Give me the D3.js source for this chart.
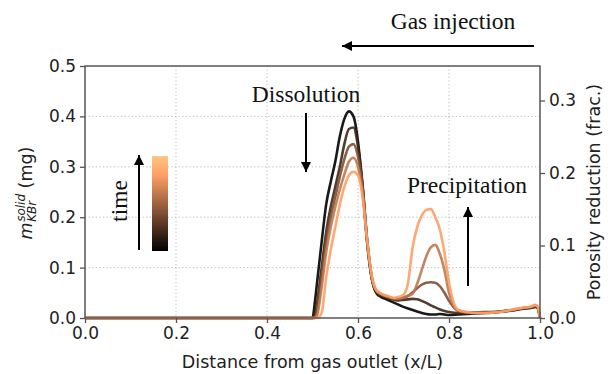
<!DOCTYPE html>
<html lang="en">
<head>
  <meta charset="UTF-8">
  <title>KBr solid mass vs distance</title>
  <script src="https://d3js.org/d3.v7.min.js"></script>
  <style>
    body { margin: 0; background: #fff; }
    .tick text { font-family: "DejaVu Sans", sans-serif; font-size: 17px; fill: #222; }
    .tick line, .domain { stroke: #555; }
    .axis-label { font-family: "DejaVu Sans", sans-serif; fill: #222; }
    .note { font-family: "Liberation Serif", "Times New Roman", serif; font-size: 23.5px; fill: #111; }
  </style>
</head>
<body>
  <div id="chart"></div>
  <script>
    // sample positions (x/L)
    const xs = [0, 0.1, 0.2, 0.3, 0.4, 0.5, 0.505, 0.51, 0.52, 0.53, 0.54, 0.55, 0.56, 0.57, 0.58, 0.59,
      0.60, 0.61, 0.62, 0.63, 0.64, 0.65, 0.66, 0.67, 0.68, 0.69, 0.70, 0.71, 0.72, 0.73, 0.74, 0.75,
      0.76, 0.77, 0.78, 0.79, 0.80, 0.82, 0.84, 0.86, 0.88, 0.90, 0.92, 0.94, 0.96, 0.98, 0.99, 0.995, 1.0];

    // solid KBr mass (mg), one series per time step, earliest first
    const t0 = [0, 0, 0, 0, 0, 0, 0.03, 0.07, 0.15, 0.225, 0.27, 0.31, 0.36, 0.395, 0.41, 0.40,
      0.35, 0.26, 0.15, 0.08, 0.05, 0.042, 0.038, 0.034, 0.030, 0.026, 0.022, 0.019, 0.016, 0.013, 0.010, 0.008,
      0.007, 0.007, 0.008, 0.007, 0.006, 0.007, 0.008, 0.009, 0.010, 0.011, 0.013, 0.015, 0.018, 0.020, 0.022, 0.02, 0];
    const t1 = [0, 0, 0, 0, 0, 0, 0.005, 0.03, 0.10, 0.17, 0.22, 0.26, 0.30, 0.345, 0.375, 0.378,
      0.34, 0.265, 0.155, 0.08, 0.052, 0.045, 0.041, 0.038, 0.036, 0.035, 0.036, 0.037, 0.038, 0.037, 0.034, 0.030,
      0.025, 0.021, 0.017, 0.014, 0.012, 0.010, 0.010, 0.011, 0.012, 0.012, 0.014, 0.016, 0.019, 0.021, 0.023, 0.02, 0];
    const t2 = [0, 0, 0, 0, 0, 0, 0, 0.015, 0.08, 0.15, 0.20, 0.24, 0.28, 0.315, 0.34, 0.345,
      0.32, 0.26, 0.155, 0.082, 0.054, 0.047, 0.043, 0.040, 0.038, 0.038, 0.040, 0.044, 0.051, 0.059, 0.066, 0.070,
      0.071, 0.070, 0.063, 0.050, 0.034, 0.014, 0.011, 0.010, 0.011, 0.012, 0.013, 0.016, 0.019, 0.022, 0.024, 0.021, 0];
    const t3 = [0, 0, 0, 0, 0, 0, 0, 0.005, 0.06, 0.13, 0.18, 0.22, 0.255, 0.285, 0.31, 0.318,
      0.30, 0.25, 0.155, 0.083, 0.055, 0.048, 0.044, 0.041, 0.039, 0.039, 0.041, 0.044, 0.048, 0.068, 0.095, 0.122,
      0.140, 0.145, 0.127, 0.095, 0.050, 0.015, 0.011, 0.010, 0.010, 0.011, 0.013, 0.016, 0.020, 0.022, 0.025, 0.022, 0];
    const t4 = [0, 0, 0, 0, 0, 0, 0, 0, 0.01, 0.08, 0.135, 0.18, 0.225, 0.26, 0.283, 0.29,
      0.283, 0.24, 0.155, 0.085, 0.056, 0.049, 0.045, 0.042, 0.040, 0.042, 0.046, 0.07, 0.14, 0.18, 0.203, 0.214,
      0.216, 0.200, 0.175, 0.13, 0.07, 0.016, 0.012, 0.010, 0.010, 0.011, 0.013, 0.017, 0.020, 0.023, 0.026, 0.023, 0];

    const series = [t0, t1, t2, t3, t4];
    const cmapPos = [0, 0.2, 0.4, 0.6, 0.8];   // place on the copper colormap

    const xTicks = [0, 0.2, 0.4, 0.6, 0.8, 1.0];
    const yTicks = [0, 0.1, 0.2, 0.3, 0.4, 0.5];
    const y2Ticks = [0, 0.1, 0.2, 0.3];

    // matplotlib "copper"
    const copper = t => d3.rgb(255 * Math.min(1, 1.25 * t), 255 * 0.7812 * t, 255 * 0.4975 * t);

    const W = 614, H = 374;
    const margin = { top: 66, right: 74, bottom: 56, left: 85 };
    const w = W - margin.left - margin.right, h = H - margin.top - margin.bottom;
    const labelSize = 17.5;

    const svg = d3.select("#chart").append("svg")
      .attr("width", W).attr("height", H);
    const g = svg.append("g").attr("transform", `translate(${margin.left},${margin.top})`);

    const x = d3.scaleLinear().domain([0, 1]).range([0, w]);
    const y = d3.scaleLinear().domain([0, 0.5]).range([h, 0]);
    // porosity reduction axis, shares the pixel range
    const y2 = d3.scaleLinear().domain([0, 0.3476]).range([h, 0]);

    // grid
    g.append("g").selectAll("line").data(xTicks.slice(1, -1)).join("line")
      .attr("x1", d => x(d)).attr("x2", d => x(d)).attr("y1", 0).attr("y2", h)
      .attr("stroke", "#bbb").attr("stroke-width", 1).attr("stroke-dasharray", "1.2,2.4");
    g.append("g").selectAll("line").data(yTicks.slice(1, -1)).join("line")
      .attr("y1", d => y(d)).attr("y2", d => y(d)).attr("x1", 0).attr("x2", w)
      .attr("stroke", "#bbb").attr("stroke-width", 1).attr("stroke-dasharray", "1.2,2.4");

    // curves
    const line = d3.line()
      .x((d, i) => x(xs[i]))
      .y(d => y(d))
      .curve(d3.curveMonotoneX);

    g.append("g").selectAll("path").data(series).join("path")
      .attr("d", line)
      .attr("fill", "none")
      .attr("stroke", (d, i) => copper(cmapPos[i]))
      .attr("stroke-width", 2.6)
      .attr("stroke-opacity", 0.9)
      .attr("stroke-linejoin", "round");

    // axes
    const fmt = d3.format(".1f");
    const xAxis = g.append("g").attr("transform", `translate(0,${h})`)
      .call(d3.axisBottom(x).tickValues(xTicks).tickFormat(fmt).tickSize(5).tickPadding(4));
    const yAxis = g.append("g")
      .call(d3.axisLeft(y).tickValues(yTicks).tickFormat(fmt).tickSize(5).tickPadding(4));
    const y2Axis = g.append("g").attr("transform", `translate(${w},0)`)
      .call(d3.axisRight(y2).tickValues(y2Ticks).tickFormat(fmt).tickSize(5).tickPadding(4));
    [xAxis, yAxis, y2Axis].forEach(a => {
      a.select(".domain").remove();
      a.selectAll(".tick line").attr("stroke-width", 1.3);
    });

    // frame
    g.append("rect").attr("width", w).attr("height", h)
      .attr("fill", "none").attr("stroke", "#555").attr("stroke-width", 1.5);

    // axis labels
    svg.append("text").attr("class", "axis-label").style("font-size", labelSize + "px")
      .attr("x", margin.left + w / 2).attr("y", 368)
      .attr("text-anchor", "middle")
      .text("Distance from gas outlet (x/L)");

    svg.append("text").attr("class", "axis-label").style("font-size", labelSize + "px")
      .attr("transform", `translate(600,${margin.top + h / 2}) rotate(-90)`)
      .attr("text-anchor", "middle")
      .text("Porosity reduction (frac.)");

    // m^{solid}_{KBr} (mg)
    const yl = svg.append("g").attr("transform", `translate(32,193) rotate(-90)`);
    const mT = yl.append("text").attr("class", "axis-label").style("font-size", labelSize + "px")
      .style("font-style", "italic").text("m");
    const mW = mT.node().getComputedTextLength();
    const sup = yl.append("text").attr("class", "axis-label").style("font-style", "italic")
      .style("font-size", "12px").attr("x", mW + 0.5).attr("y", -7).text("solid");
    const sub = yl.append("text").attr("class", "axis-label").style("font-style", "italic")
      .style("font-size", "12px").attr("x", mW + 0.5).attr("y", 4).text("KBr");
    const scriptW = Math.max(sup.node().getComputedTextLength(), sub.node().getComputedTextLength());
    const unit = yl.append("text").attr("class", "axis-label").style("font-size", labelSize + "px")
      .attr("x", mW + scriptW + 6).text("(mg)");
    const total = mW + scriptW + 6 + unit.node().getComputedTextLength();
    yl.selectAll("text").attr("dx", -total / 2);

    // annotations
    const ann = svg.append("g");
    ann.append("defs").append("marker")
      .attr("id", "head").attr("viewBox", "0 0 10 10")
      .attr("refX", 10).attr("refY", 5)
      .attr("markerWidth", 5).attr("markerHeight", 5)
      .attr("markerUnits", "strokeWidth")
      .attr("orient", "auto")
      .append("path").attr("d", "M0,0 L10,5 L0,10 Z").attr("fill", "#000");

    const arrow = (x1, y1, x2, y2) => ann.append("line")
      .attr("x1", x1).attr("y1", y1).attr("x2", x2).attr("y2", y2)
      .attr("stroke", "#000").attr("stroke-width", 2)
      .attr("marker-end", "url(#head)");

    ann.append("text").attr("class", "note").attr("x", 453).attr("y", 29)
      .attr("text-anchor", "middle").text("Gas injection");
    arrow(534, 46, 342, 46);

    ann.append("text").attr("class", "note").attr("x", 306).attr("y", 102)
      .attr("text-anchor", "middle").text("Dissolution");
    arrow(306, 113, 306, 172);

    ann.append("text").attr("class", "note").attr("x", 467).attr("y", 193)
      .attr("text-anchor", "middle").text("Precipitation");
    arrow(468, 286, 468, 207);

    // time colour bar
    const grad = ann.select("defs").append("linearGradient")
      .attr("id", "copper").attr("x1", 0).attr("y1", 1).attr("x2", 0).attr("y2", 0);
    [0, 0.2, 0.4, 0.6, 0.8, 1].forEach(t => grad.append("stop")
      .attr("offset", t).attr("stop-color", copper(t)));
    ann.append("rect").attr("x", 152).attr("y", 156).attr("width", 16).attr("height", 95)
      .attr("fill", "url(#copper)");
    arrow(139, 250, 139, 155);
    ann.append("text").attr("class", "note")
      .attr("transform", "translate(127,201) rotate(-90)")
      .attr("text-anchor", "middle").text("time");
  </script>
</body>
</html>
